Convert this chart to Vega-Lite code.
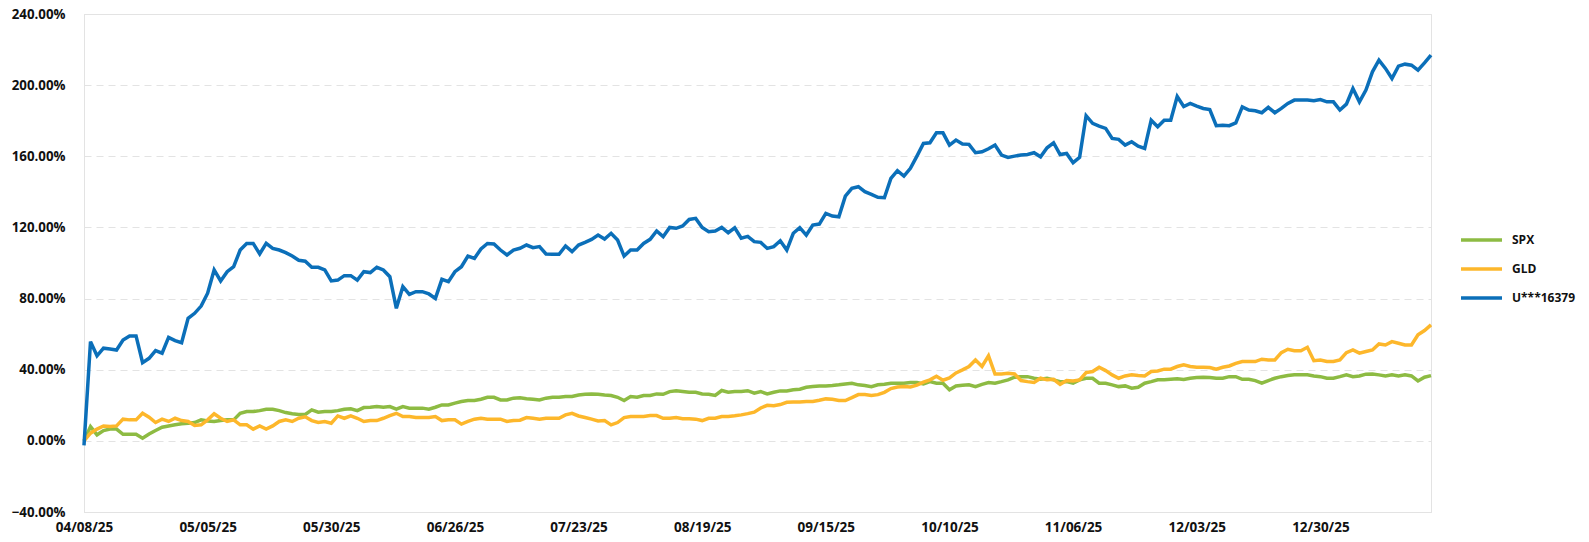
{
  "$schema": "https://vega.github.io/schema/vega-lite/v6.json",
  "width": 1347,
  "height": 498,
  "autosize": {"type": "none"},
  "padding": {"left": 84, "top": 14, "right": 158, "bottom": 30},
  "background": "white",
  "config": {"view": {"stroke": "#e3e3e3", "strokeWidth": 1}, "font": "Open Sans"},
  "data": {"values": [
{"d":"04/08/25","SPX":0,"GLD":0,"U***16379":-2.5},
{"d":"04/09/25","SPX":8,"GLD":4.3,"U***16379":55.8},
{"d":"04/10/25","SPX":3.4,"GLD":6.6,"U***16379":47.8},
{"d":"04/11/25","SPX":5.8,"GLD":8.4,"U***16379":52.1},
{"d":"04/14/25","SPX":6.6,"GLD":8.1,"U***16379":51.7},
{"d":"04/15/25","SPX":6.6,"GLD":8.4,"U***16379":51.1},
{"d":"04/16/25","SPX":3.7,"GLD":12.2,"U***16379":56.7},
{"d":"04/17/25","SPX":3.7,"GLD":11.8,"U***16379":59},
{"d":"04/18/25","SPX":3.7,"GLD":11.8,"U***16379":59},
{"d":"04/21/25","SPX":1.5,"GLD":15.5,"U***16379":44},
{"d":"04/22/25","SPX":3.9,"GLD":13.3,"U***16379":46.4},
{"d":"04/23/25","SPX":5.8,"GLD":10.3,"U***16379":50.7},
{"d":"04/24/25","SPX":7.7,"GLD":12.2,"U***16379":49.3},
{"d":"04/25/25","SPX":8.4,"GLD":10.9,"U***16379":58.2},
{"d":"04/28/25","SPX":9,"GLD":12.7,"U***16379":56.4},
{"d":"04/29/25","SPX":9.6,"GLD":11.4,"U***16379":55.2},
{"d":"04/30/25","SPX":9.9,"GLD":10.9,"U***16379":68.9},
{"d":"05/01/25","SPX":10.3,"GLD":8.6,"U***16379":71.7},
{"d":"05/02/25","SPX":11.8,"GLD":9,"U***16379":75.8},
{"d":"05/05/25","SPX":11.2,"GLD":11.8,"U***16379":83},
{"d":"05/06/25","SPX":10.9,"GLD":15.2,"U***16379":96.1},
{"d":"05/07/25","SPX":11.4,"GLD":12.7,"U***16379":89.9},
{"d":"05/08/25","SPX":11.8,"GLD":10.9,"U***16379":95.1},
{"d":"05/09/25","SPX":11.8,"GLD":11.8,"U***16379":97.9},
{"d":"05/12/25","SPX":15.5,"GLD":9,"U***16379":107.3},
{"d":"05/13/25","SPX":16.5,"GLD":9,"U***16379":111},
{"d":"05/14/25","SPX":16.5,"GLD":6.6,"U***16379":111},
{"d":"05/15/25","SPX":17,"GLD":8.4,"U***16379":105.1},
{"d":"05/16/25","SPX":17.8,"GLD":6.6,"U***16379":111},
{"d":"05/19/25","SPX":17.8,"GLD":8.4,"U***16379":108.2},
{"d":"05/20/25","SPX":17,"GLD":10.9,"U***16379":107.3},
{"d":"05/21/25","SPX":15.9,"GLD":11.8,"U***16379":105.8},
{"d":"05/22/25","SPX":15.2,"GLD":10.9,"U***16379":103.9},
{"d":"05/23/25","SPX":14.8,"GLD":12.7,"U***16379":101.5},
{"d":"05/26/25","SPX":14.8,"GLD":13.5,"U***16379":101},
{"d":"05/27/25","SPX":17.4,"GLD":11.4,"U***16379":97.6},
{"d":"05/28/25","SPX":16.1,"GLD":10.3,"U***16379":97.6},
{"d":"05/29/25","SPX":16.5,"GLD":10.9,"U***16379":96.1},
{"d":"05/30/25","SPX":16.5,"GLD":9.9,"U***16379":89.9},
{"d":"06/02/25","SPX":17,"GLD":14,"U***16379":90.4},
{"d":"06/03/25","SPX":17.8,"GLD":12.7,"U***16379":92.9},
{"d":"06/04/25","SPX":18,"GLD":14,"U***16379":92.9},
{"d":"06/05/25","SPX":17,"GLD":12.7,"U***16379":90.4},
{"d":"06/06/25","SPX":18.7,"GLD":10.9,"U***16379":95.1},
{"d":"06/09/25","SPX":18.9,"GLD":11.4,"U***16379":94.6},
{"d":"06/10/25","SPX":19.3,"GLD":11.4,"U***16379":97.6},
{"d":"06/11/25","SPX":18.9,"GLD":12.7,"U***16379":96.1},
{"d":"06/12/25","SPX":19.3,"GLD":14.2,"U***16379":92.3},
{"d":"06/13/25","SPX":17.8,"GLD":15.5,"U***16379":74.5},
{"d":"06/16/25","SPX":19.3,"GLD":13.7,"U***16379":86.7},
{"d":"06/17/25","SPX":18.4,"GLD":13.7,"U***16379":82.4},
{"d":"06/18/25","SPX":18.4,"GLD":13.1,"U***16379":83.9},
{"d":"06/19/25","SPX":18.4,"GLD":13.1,"U***16379":83.9},
{"d":"06/20/25","SPX":17.8,"GLD":13.1,"U***16379":82.6},
{"d":"06/23/25","SPX":18.9,"GLD":13.7,"U***16379":80.1},
{"d":"06/24/25","SPX":20.2,"GLD":11.4,"U***16379":90.8},
{"d":"06/25/25","SPX":20.2,"GLD":11.8,"U***16379":89.5},
{"d":"06/26/25","SPX":21.2,"GLD":11.8,"U***16379":95.1},
{"d":"06/27/25","SPX":22.1,"GLD":9.4,"U***16379":97.9},
{"d":"06/30/25","SPX":22.7,"GLD":10.9,"U***16379":103.9},
{"d":"07/01/25","SPX":22.7,"GLD":12.2,"U***16379":102.6},
{"d":"07/02/25","SPX":23.4,"GLD":12.7,"U***16379":107.9},
{"d":"07/03/25","SPX":24.5,"GLD":12.2,"U***16379":111},
{"d":"07/04/25","SPX":24.5,"GLD":12.2,"U***16379":110.7},
{"d":"07/07/25","SPX":23,"GLD":12.2,"U***16379":107.3},
{"d":"07/08/25","SPX":23,"GLD":10.9,"U***16379":104.5},
{"d":"07/09/25","SPX":24,"GLD":11.4,"U***16379":107.3},
{"d":"07/10/25","SPX":24.2,"GLD":11.6,"U***16379":108.3},
{"d":"07/11/25","SPX":23.7,"GLD":13.1,"U***16379":110.1},
{"d":"07/14/25","SPX":23.4,"GLD":12.7,"U***16379":108.6},
{"d":"07/15/25","SPX":23,"GLD":12.2,"U***16379":109.2},
{"d":"07/16/25","SPX":24,"GLD":12.7,"U***16379":105.1},
{"d":"07/17/25","SPX":24.5,"GLD":12.7,"U***16379":104.9},
{"d":"07/18/25","SPX":24.5,"GLD":12.7,"U***16379":104.9},
{"d":"07/21/25","SPX":24.9,"GLD":14.6,"U***16379":109.6},
{"d":"07/22/25","SPX":24.9,"GLD":15.5,"U***16379":106.4},
{"d":"07/23/25","SPX":25.8,"GLD":14,"U***16379":110.1},
{"d":"07/24/25","SPX":26.2,"GLD":13.1,"U***16379":111.6},
{"d":"07/25/25","SPX":26.4,"GLD":12.2,"U***16379":113.3},
{"d":"07/28/25","SPX":26.2,"GLD":11.2,"U***16379":115.7},
{"d":"07/29/25","SPX":25.8,"GLD":11.4,"U***16379":113.5},
{"d":"07/30/25","SPX":25.5,"GLD":9,"U***16379":116.7},
{"d":"07/31/25","SPX":24.5,"GLD":10.3,"U***16379":112.9},
{"d":"08/01/25","SPX":22.7,"GLD":13.1,"U***16379":103.9},
{"d":"08/04/25","SPX":24.9,"GLD":13.7,"U***16379":107.3},
{"d":"08/05/25","SPX":24.5,"GLD":13.7,"U***16379":107.3},
{"d":"08/06/25","SPX":25.5,"GLD":13.7,"U***16379":111},
{"d":"08/07/25","SPX":25.5,"GLD":14.2,"U***16379":113.3},
{"d":"08/08/25","SPX":26.4,"GLD":14.2,"U***16379":118},
{"d":"08/11/25","SPX":26.2,"GLD":12.7,"U***16379":114.8},
{"d":"08/12/25","SPX":27.7,"GLD":12.7,"U***16379":120},
{"d":"08/13/25","SPX":28.1,"GLD":13.1,"U***16379":119.5},
{"d":"08/14/25","SPX":27.7,"GLD":12.4,"U***16379":120.8},
{"d":"08/15/25","SPX":27.3,"GLD":12.4,"U***16379":124.5},
{"d":"08/18/25","SPX":27.3,"GLD":12.2,"U***16379":125.1},
{"d":"08/19/25","SPX":26.4,"GLD":11.4,"U***16379":120},
{"d":"08/20/25","SPX":26.2,"GLD":12.7,"U***16379":117.6},
{"d":"08/21/25","SPX":25.5,"GLD":12.7,"U***16379":118},
{"d":"08/22/25","SPX":28.3,"GLD":13.7,"U***16379":120},
{"d":"08/25/25","SPX":27.3,"GLD":13.7,"U***16379":117},
{"d":"08/26/25","SPX":27.7,"GLD":14.1,"U***16379":119.8},
{"d":"08/27/25","SPX":27.8,"GLD":14.6,"U***16379":114},
{"d":"08/28/25","SPX":28.2,"GLD":15.3,"U***16379":115},
{"d":"08/29/25","SPX":26.8,"GLD":16.1,"U***16379":112},
{"d":"09/01/25","SPX":27.7,"GLD":18.5,"U***16379":111.6},
{"d":"09/02/25","SPX":26.4,"GLD":20,"U***16379":108.2},
{"d":"09/03/25","SPX":27.3,"GLD":19.7,"U***16379":109.2},
{"d":"09/04/25","SPX":28.1,"GLD":20.4,"U***16379":112.5},
{"d":"09/05/25","SPX":28.1,"GLD":21.7,"U***16379":107.3},
{"d":"09/08/25","SPX":28.7,"GLD":21.9,"U***16379":116.7},
{"d":"09/09/25","SPX":29,"GLD":21.9,"U***16379":119.9},
{"d":"09/10/25","SPX":30.1,"GLD":22.1,"U***16379":115.7},
{"d":"09/11/25","SPX":30.5,"GLD":22.1,"U***16379":121.3},
{"d":"09/12/25","SPX":30.9,"GLD":22.8,"U***16379":121.9},
{"d":"09/15/25","SPX":30.9,"GLD":23.6,"U***16379":127.9},
{"d":"09/16/25","SPX":31.1,"GLD":23.4,"U***16379":126.4},
{"d":"09/17/25","SPX":31.5,"GLD":22.7,"U***16379":126},
{"d":"09/18/25","SPX":32,"GLD":22.7,"U***16379":137.6},
{"d":"09/19/25","SPX":32.4,"GLD":24.3,"U***16379":142},
{"d":"09/22/25","SPX":31.5,"GLD":26,"U***16379":142.9},
{"d":"09/23/25","SPX":31.1,"GLD":26,"U***16379":140.1},
{"d":"09/24/25","SPX":30.5,"GLD":25.5,"U***16379":138.6},
{"d":"09/25/25","SPX":31.5,"GLD":26,"U***16379":136.9},
{"d":"09/26/25","SPX":31.8,"GLD":27.3,"U***16379":136.7},
{"d":"09/29/25","SPX":32.4,"GLD":29.4,"U***16379":147.6},
{"d":"09/30/25","SPX":32.4,"GLD":30.3,"U***16379":151.9},
{"d":"10/01/25","SPX":32.4,"GLD":30.5,"U***16379":148.9},
{"d":"10/02/25","SPX":32.8,"GLD":30.3,"U***16379":153.2},
{"d":"10/03/25","SPX":32.8,"GLD":31.3,"U***16379":160.1},
{"d":"10/06/25","SPX":32,"GLD":33,"U***16379":167.2},
{"d":"10/07/25","SPX":33.3,"GLD":34.3,"U***16379":167.6},
{"d":"10/08/25","SPX":32.4,"GLD":36.3,"U***16379":173.2},
{"d":"10/09/25","SPX":32.4,"GLD":34.1,"U***16379":173.2},
{"d":"10/10/25","SPX":28.7,"GLD":35.4,"U***16379":166.3},
{"d":"10/13/25","SPX":30.9,"GLD":38.2,"U***16379":169.1},
{"d":"10/14/25","SPX":31.2,"GLD":39.9,"U***16379":166.9},
{"d":"10/15/25","SPX":31.5,"GLD":41.8,"U***16379":166.7},
{"d":"10/16/25","SPX":30.5,"GLD":45.5,"U***16379":162},
{"d":"10/17/25","SPX":31.8,"GLD":41.8,"U***16379":162.5},
{"d":"10/20/25","SPX":32.8,"GLD":47.8,"U***16379":164.2},
{"d":"10/21/25","SPX":32.4,"GLD":37.6,"U***16379":166.3},
{"d":"10/22/25","SPX":33.3,"GLD":37.6,"U***16379":160.7},
{"d":"10/23/25","SPX":34.3,"GLD":38,"U***16379":159.4},
{"d":"10/24/25","SPX":35.8,"GLD":37.6,"U***16379":160.1},
{"d":"10/27/25","SPX":36.1,"GLD":33.9,"U***16379":160.7},
{"d":"10/28/25","SPX":36.1,"GLD":33.3,"U***16379":161},
{"d":"10/29/25","SPX":35.2,"GLD":32.8,"U***16379":162},
{"d":"10/30/25","SPX":34.6,"GLD":35.2,"U***16379":159.7},
{"d":"10/31/25","SPX":35.2,"GLD":34.3,"U***16379":164.8},
{"d":"11/03/25","SPX":34.3,"GLD":34.6,"U***16379":167.6},
{"d":"11/04/25","SPX":33.3,"GLD":31.8,"U***16379":161},
{"d":"11/05/25","SPX":33.3,"GLD":33.9,"U***16379":161.6},
{"d":"11/06/25","SPX":32.4,"GLD":33.7,"U***16379":156.4},
{"d":"11/07/25","SPX":34.3,"GLD":34.3,"U***16379":159.4},
{"d":"11/10/25","SPX":35.2,"GLD":38.4,"U***16379":182.8},
{"d":"11/11/25","SPX":35.2,"GLD":39,"U***16379":178.5},
{"d":"11/12/25","SPX":32.4,"GLD":41.4,"U***16379":177},
{"d":"11/13/25","SPX":32.4,"GLD":39.5,"U***16379":175.7},
{"d":"11/14/25","SPX":31.5,"GLD":37.1,"U***16379":170},
{"d":"11/17/25","SPX":30.5,"GLD":35.2,"U***16379":169.5},
{"d":"11/18/25","SPX":30.9,"GLD":36.5,"U***16379":166.3},
{"d":"11/19/25","SPX":29.6,"GLD":37.1,"U***16379":168.2},
{"d":"11/20/25","SPX":30.1,"GLD":36.7,"U***16379":165.7},
{"d":"11/21/25","SPX":32.4,"GLD":36.5,"U***16379":164.4},
{"d":"11/24/25","SPX":33.3,"GLD":39,"U***16379":180.3},
{"d":"11/25/25","SPX":34.3,"GLD":39.3,"U***16379":176.6},
{"d":"11/26/25","SPX":34.3,"GLD":40.3,"U***16379":180.3},
{"d":"11/27/25","SPX":34.6,"GLD":40.3,"U***16379":180.3},
{"d":"11/28/25","SPX":34.9,"GLD":41.8,"U***16379":193.6},
{"d":"12/01/25","SPX":34.5,"GLD":42.7,"U***16379":188},
{"d":"12/02/25","SPX":35.2,"GLD":41.8,"U***16379":189.7},
{"d":"12/03/25","SPX":35.6,"GLD":41.4,"U***16379":188.2},
{"d":"12/04/25","SPX":35.8,"GLD":41.4,"U***16379":186.9},
{"d":"12/05/25","SPX":35.6,"GLD":41.2,"U***16379":186.3},
{"d":"12/08/25","SPX":35.2,"GLD":40.3,"U***16379":177.2},
{"d":"12/09/25","SPX":35.2,"GLD":41.4,"U***16379":177.5},
{"d":"12/10/25","SPX":36.1,"GLD":42.1,"U***16379":177.2},
{"d":"12/11/25","SPX":36.1,"GLD":43.6,"U***16379":178.8},
{"d":"12/12/25","SPX":34.6,"GLD":44.6,"U***16379":187.8},
{"d":"12/15/25","SPX":34.6,"GLD":44.6,"U***16379":186},
{"d":"12/16/25","SPX":33.9,"GLD":44.6,"U***16379":185.6},
{"d":"12/17/25","SPX":32.4,"GLD":45.9,"U***16379":184.5},
{"d":"12/18/25","SPX":33.9,"GLD":45.5,"U***16379":187.5},
{"d":"12/19/25","SPX":35.2,"GLD":45.5,"U***16379":184.5},
{"d":"12/22/25","SPX":36.1,"GLD":49.6,"U***16379":186.9},
{"d":"12/23/25","SPX":36.7,"GLD":51.5,"U***16379":189.7},
{"d":"12/24/25","SPX":37.1,"GLD":50.7,"U***16379":191.6},
{"d":"12/25/25","SPX":37.1,"GLD":50.7,"U***16379":191.6},
{"d":"12/26/25","SPX":37.1,"GLD":52.6,"U***16379":191.6},
{"d":"12/29/25","SPX":36.5,"GLD":45.1,"U***16379":191.2},
{"d":"12/30/25","SPX":36.1,"GLD":45.5,"U***16379":191.9},
{"d":"12/31/25","SPX":35.2,"GLD":44.6,"U***16379":190.6},
{"d":"01/01/26","SPX":35.2,"GLD":44.6,"U***16379":190.6},
{"d":"01/02/26","SPX":36.1,"GLD":45.5,"U***16379":186},
{"d":"01/05/26","SPX":37.1,"GLD":49.6,"U***16379":189.3},
{"d":"01/06/26","SPX":36.1,"GLD":51.1,"U***16379":198.1},
{"d":"01/07/26","SPX":36.5,"GLD":49.3,"U***16379":190.6},
{"d":"01/08/26","SPX":37.5,"GLD":50.2,"U***16379":197.2},
{"d":"01/09/26","SPX":37.6,"GLD":51.1,"U***16379":207.5},
{"d":"01/12/26","SPX":37.1,"GLD":54.5,"U***16379":214},
{"d":"01/13/26","SPX":36.5,"GLD":53.9,"U***16379":209.4},
{"d":"01/14/26","SPX":37.1,"GLD":55.8,"U***16379":203.7},
{"d":"01/15/26","SPX":36.5,"GLD":54.9,"U***16379":210.7},
{"d":"01/16/26","SPX":37.1,"GLD":53.9,"U***16379":211.8},
{"d":"01/19/26","SPX":36.5,"GLD":53.9,"U***16379":211.2},
{"d":"01/20/26","SPX":33.7,"GLD":59.6,"U***16379":208.4},
{"d":"01/21/26","SPX":35.8,"GLD":62,"U***16379":212.5},
{"d":"01/22/26","SPX":36.7,"GLD":65.2,"U***16379":216.9}
  ]},
  "transform": [{"fold": ["SPX", "GLD", "U***16379"], "as": ["series", "value"]}],
  "mark": {"type": "line", "strokeWidth": 3.5},
  "encoding": {
    "x": {
      "field": "d", "type": "ordinal", "sort": null,
      "scale": {"type": "point", "padding": 0},
      "axis": {
        "values": ["04/08/25","05/05/25","05/30/25","06/26/25","07/23/25","08/19/25","09/15/25","10/10/25","11/06/25","12/03/25","12/30/25"],
        "title": null, "labelAngle": 0, "ticks": false, "grid": false,
        "domain": true, "domainColor": "#e3e3e3",
        "labelFont": "Open Sans", "labelFontWeight": "bold", "labelFontSize": 13.5,
        "labelColor": "#111111", "labelPadding": 8
      }
    },
    "y": {
      "field": "value", "type": "quantitative",
      "scale": {"domain": [-40, 240], "nice": false, "zero": false},
      "axis": {
        "values": [-40, 0, 40, 80, 120, 160, 200, 240],
        "labelExpr": "format(datum.value, '.2f') + '%'",
        "title": null, "ticks": false, "grid": true,
        "gridColor": "#e3e3e3", "gridDash": [7, 5], "gridWidth": 1,
        "domain": true, "domainColor": "#e3e3e3",
        "labelFont": "Open Sans", "labelFontWeight": "bold", "labelFontSize": 13.3,
        "labelColor": "#111111", "labelPadding": 19
      }
    },
    "color": {
      "field": "series", "type": "nominal",
      "scale": {"domain": ["SPX", "GLD", "U***16379"], "range": ["#8DBB43", "#FDB72B", "#0B6FB9"]},
      "legend": {
        "orient": "none", "legendX": 1375, "legendY": 218,
        "title": null, "padding": 0,
        "symbolType": "stroke", "symbolSize": 1681, "symbolStrokeWidth": 3.5,
        "clipHeight": 16, "rowPadding": 13,
        "labelFont": "Open Sans", "labelFontWeight": "bold", "labelFontSize": 12,
        "labelColor": "#111111", "labelOffset": 8
      }
    }
  }
}
